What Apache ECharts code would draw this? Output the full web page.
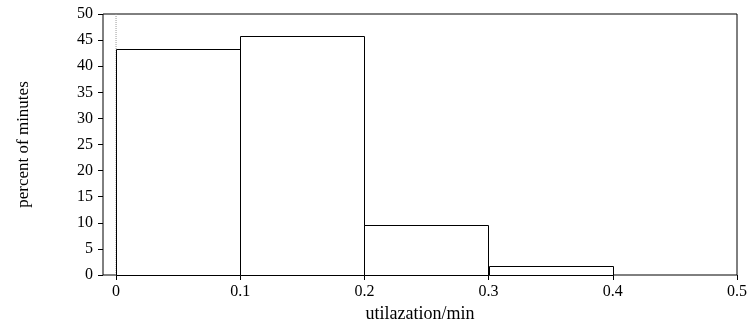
<!DOCTYPE html>
<html><head><meta charset="utf-8">
<script src="https://cdn.jsdelivr.net/npm/echarts@6/dist/echarts.min.js"></script>
<style>html,body{margin:0;padding:0;background:#fff}#c{width:751px;height:325px}</style>
</head><body><div id="c"></div>
<script>
const binStarts = [0, 0.1, 0.2, 0.3];
const binEnds = [0.1, 0.2, 0.3, 0.4];
const percents = [43.3, 45.7, 9.5, 1.7];
const xTicks = [0, 0.1, 0.2, 0.3, 0.4, 0.5];

const font = '"Liberation Serif", "Times New Roman", serif';
const chart = echarts.init(document.getElementById('c'), null, {renderer: 'canvas'});
const data = binStarts.map((s, i) => [s, binEnds[i], percents[i]]);
chart.setOption({
  animation: false,
  grid: {left: 103, right: 14, top: 14, bottom: 50, containLabel: false, outerBoundsMode: 'none',
    show: true, borderColor: '#000', borderWidth: 1, backgroundColor: 'transparent'},
  xAxis: {
    type: 'value', min: -0.0105, max: 0.5,
    name: 'utilazation/min', nameLocation: 'middle', nameGap: 29,
    nameTextStyle: {fontFamily: font, fontSize: 18, color: '#000'},
    axisLine: {show: false, onZero: false},
    axisTick: {show: true, length: 5, customValues: xTicks, lineStyle: {color: '#000'}},
    axisLabel: {customValues: xTicks, fontFamily: font, fontSize: 16, color: '#000', margin: 9,
      formatter: v => String(Math.round(v * 10) / 10)},
    splitLine: {show: false}
  },
  yAxis: {
    type: 'value', min: 0, max: 50, interval: 5,
    name: 'percent of minutes', nameLocation: 'middle', nameGap: 71, nameRotate: 90,
    nameTextStyle: {fontFamily: font, fontSize: 17, color: '#000'},
    axisLine: {show: false, onZero: false},
    axisTick: {show: true, length: 5, lineStyle: {color: '#000'}},
    axisLabel: {fontFamily: font, fontSize: 16, color: '#000', margin: 10},
    splitLine: {show: false}
  },
  series: [
    {
      type: 'line', data: [[0, 0], [0, 50]], symbol: 'none', silent: true,
      lineStyle: {color: '#999', width: 1, type: [1, 1]}, z: 1
    },
    {
      type: 'custom', data: data, z: 2,
      renderItem: function (params, api) {
        const p0 = api.coord([api.value(0), api.value(2)]);
        const p1 = api.coord([api.value(1), 0]);
        return {
          type: 'rect',
          shape: {x: Math.round(p0[0]) + 0.5, y: Math.round(p0[1]) + 0.5, width: Math.round(p1[0] - p0[0]), height: Math.round(p1[1] - p0[1])},
          style: {fill: '#fff', stroke: '#000', lineWidth: 1}
        };
      },
      encode: {x: [0, 1], y: 2}
    }
  ]
});
</script></body></html>
